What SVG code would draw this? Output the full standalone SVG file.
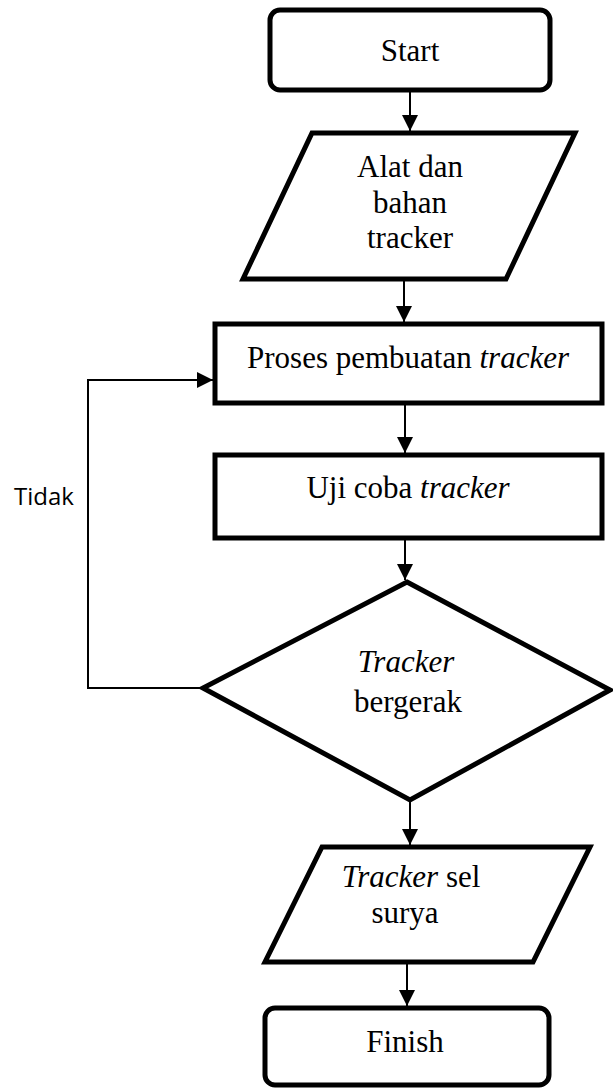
<svg xmlns="http://www.w3.org/2000/svg" width="613" height="1088" viewBox="0 0 613 1088">
<style>
.shape{fill:#fff;stroke:#000;stroke-width:5;stroke-linejoin:miter}
.conn{fill:none;stroke:#000;stroke-width:2}
.t{font-family:"Liberation Serif","Times New Roman",serif;font-size:31px;fill:#000;text-anchor:middle}
.i{font-style:italic}
.lbl{font-family:"Open Sans","Liberation Sans",sans-serif;font-size:24px;fill:#000}
</style>
<defs>
<marker id="ah" viewBox="0 0 10 10" refX="10" refY="5" markerWidth="8" markerHeight="8" markerUnits="strokeWidth" orient="auto">
<path d="M0,0 L10,5 L0,10 z" fill="#000"/>
</marker>
</defs>
<g id="connectors">
<line class="conn" x1="410" y1="92" x2="410" y2="131" marker-end="url(#ah)"/>
<line class="conn" x1="404" y1="281" x2="404" y2="322" marker-end="url(#ah)"/>
<line class="conn" x1="405" y1="405" x2="405" y2="453" marker-end="url(#ah)"/>
<line class="conn" x1="405" y1="540" x2="405" y2="580" marker-end="url(#ah)"/>
<polyline class="conn" points="203,688 88,688 88,380 213,380" marker-end="url(#ah)"/>
<line class="conn" x1="410" y1="802" x2="410" y2="845" marker-end="url(#ah)"/>
<line class="conn" x1="407" y1="964" x2="407" y2="1006" marker-end="url(#ah)"/>
<text class="lbl" x="14" y="505">Tidak</text>
</g>
<g id="start">
<rect class="shape" x="270" y="10" width="280" height="80" rx="10"/>
<text class="t" x="410" y="61">Start</text>
</g>
<g id="alat">
<polygon class="shape" points="312,133 575,133 506,279 243,279"/>
<text class="t" x="410" y="177">Alat dan</text>
<text class="t" x="410" y="213">bahan</text>
<text class="t" x="410" y="248">tracker</text>
</g>
<g id="proses">
<rect class="shape" x="215" y="324" width="387" height="79"/>
<text class="t" x="408" y="368">Proses pembuatan <tspan class="i">tracker</tspan></text>
</g>
<g id="uji">
<rect class="shape" x="215" y="455" width="387" height="83"/>
<text class="t" x="408" y="498">Uji coba <tspan class="i">tracker</tspan></text>
</g>
<g id="decision">
<polygon class="shape" points="407,582 610,690 410,800 203,688"/>
<text class="t i" x="406" y="672">Tracker</text>
<text class="t" x="408" y="712">bergerak</text>
</g>
<g id="output">
<polygon class="shape" points="322,847 590,847 533,962 265,962"/>
<text class="t" x="411" y="887"><tspan class="i">Tracker</tspan> sel</text>
<text class="t" x="405" y="923">surya</text>
</g>
<g id="finish">
<rect class="shape" x="265" y="1008" width="284" height="77" rx="10"/>
<text class="t" x="405" y="1052">Finish</text>
</g>
</svg>
